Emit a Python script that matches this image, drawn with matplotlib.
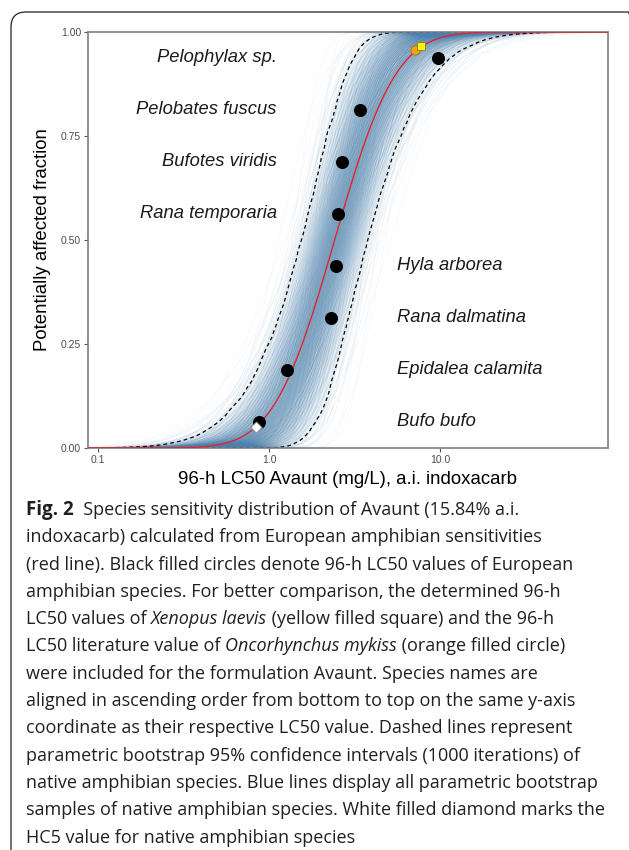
"""
Species sensitivity distribution of Avaunt, amphibians (Fig. 2).
"""

import math
from statistics import NormalDist

import numpy as np
import matplotlib
matplotlib.use("Agg")
import matplotlib.pyplot as plt
from matplotlib.collections import LineCollection
from matplotlib.patches import FancyBboxPatch

plt.rcParams["font.family"] = ["Liberation Sans", "DejaVu Sans"]

# native amphibian species, ascending LC50 (mg/L)
species = [
    "Bufo bufo",
    "Epidalea calamita",
    "Rana dalmatina",
    "Hyla arborea",
    "Rana temporaria",
    "Bufotes viridis",
    "Pelobates fuscus",
    "Pelophylax sp.",
]
lc50 = [0.875, 1.28, 2.31, 2.48, 2.55, 2.68, 3.39, 9.7]
affected = [0.0625, 0.1875, 0.3125, 0.4375, 0.5625, 0.6875, 0.8125, 0.9375]

xenopus_lc50 = 7.78
xenopus_frac = 0.966
oncorhynchus_lc50 = 7.17
oncorhynchus_frac = 0.956
hc5_value = 0.836
hc5_frac = 0.05

# fitted log-normal (log10 scale) and bootstrap settings
fit_meanlog10 = 0.384
fit_sdlog10 = 0.281
n_species = 8
n_boot = 1000

x_ticks = [0.1, 1.0, 10.0]
x_tick_labels = ["0.1", "1.0", "10.0"]
y_ticks = [0.0, 0.25, 0.50, 0.75, 1.00]
y_tick_labels = ["0.00", "0.25", "0.50", "0.75", "1.00"]

caption_lines = [
    [("Fig. 2", "bold"), ("  Species sensitivity distribution of Avaunt (15.84% a.i.", "normal")],
    [("indoxacarb) calculated from European amphibian sensitivities", "normal")],
    [("(red line). Black filled circles denote 96-h LC50 values of European", "normal")],
    [("amphibian species. For better comparison, the determined 96-h", "normal")],
    [("LC50 values of ", "normal"), ("Xenopus laevis", "italic"),
     (" (yellow filled square) and the 96-h", "normal")],
    [("LC50 literature value of ", "normal"), ("Oncorhynchus mykiss", "italic"),
     (" (orange filled circle)", "normal")],
    [("were included for the formulation Avaunt. Species names are", "normal")],
    [("aligned in ascending order from bottom to top on the same y-axis", "normal")],
    [("coordinate as their respective LC50 value. Dashed lines represent", "normal")],
    [("parametric bootstrap 95% confidence intervals (1000 iterations) of", "normal")],
    [("native amphibian species. Blue lines display all parametric bootstrap", "normal")],
    [("samples of native amphibian species. White filled diamond marks the", "normal")],
    [("HC5 value for native amphibian species", "normal")],
]

W, H = 629, 850
fig = plt.figure(figsize=(W / 100, H / 100), dpi=100)
ax = fig.add_axes([88 / W, (H - 448) / H, 520 / W, 416 / H])

x_min, x_max = 0.0875, 96.0
x_grid = np.logspace(np.log10(x_min), np.log10(x_max), 400)
log_x = np.log10(x_grid)

nd = NormalDist()
erf = np.vectorize(math.erf)


def lognorm_cdf(mu, sd):
    return 0.5 * (1 + erf((log_x - mu) / (sd * math.sqrt(2))))


# parametric bootstrap curves, quantile based instead of random draws
df = n_species - 1
boot_curves = []
for k in range(n_boot):
    z_mu = nd.inv_cdf((k + 0.5) / n_boot)
    z_sd = nd.inv_cdf(((k + 0.5) * 0.6180339887) % 1)
    chi2 = df * (1 - 2 / (9 * df) + z_sd * math.sqrt(2 / (9 * df))) ** 3
    mu_k = fit_meanlog10 + fit_sdlog10 * z_mu / math.sqrt(n_species)
    sd_k = fit_sdlog10 * math.sqrt(chi2 / n_species)
    boot_curves.append(lognorm_cdf(mu_k, sd_k))
boot_curves = np.array(boot_curves)

segments = [np.column_stack([x_grid, y]) for y in boot_curves]
ax.add_collection(
    LineCollection(segments, colors="#4682b4", alpha=0.05, linewidths=0.6, zorder=1)
)

ci_low = np.percentile(boot_curves, 2.5, axis=0)
ci_high = np.percentile(boot_curves, 97.5, axis=0)
ax.plot(x_grid, ci_low, color="black", lw=0.9, ls=(0, (3, 2.5)), zorder=2)
ax.plot(x_grid, ci_high, color="black", lw=0.9, ls=(0, (3, 2.5)), zorder=2)

ax.plot(x_grid, lognorm_cdf(fit_meanlog10, fit_sdlog10), color="#e0262b", lw=1.0, zorder=3)

ax.scatter(lc50, affected, s=70, color="black", zorder=4)
ax.scatter([hc5_value], [hc5_frac], marker="D", s=32, facecolor="white",
           edgecolor="#888888", linewidth=0.6, zorder=5)
ax.scatter([oncorhynchus_lc50], [oncorhynchus_frac], marker="o", s=45,
           facecolor="#f5a01a", edgecolor="#a86a10", linewidth=0.6, zorder=5)
ax.scatter([xenopus_lc50], [xenopus_frac], marker="s", s=40,
           facecolor="#fff200", edgecolor="#8c7d10", linewidth=0.6, zorder=6)

# species names: upper four right-aligned left of curve, lower four on the right
for name, frac in zip(species, affected):
    if frac > 0.5:
        ax.text(1.11, frac, name, ha="right", va="center", fontsize=13.2,
                style="italic", color="#1a1a1a")
    else:
        ax.text(5.6, frac, name, ha="left", va="center", fontsize=13.2,
                style="italic", color="#1a1a1a")

ax.set_xscale("log")
ax.set_xlim(x_min, x_max)
ax.set_ylim(0, 1)
ax.set_xticks(x_ticks)
ax.set_xticklabels(x_tick_labels)
ax.minorticks_off()
ax.set_yticks(y_ticks)
ax.set_yticklabels(y_tick_labels)
ax.tick_params(length=3, width=0.8, color="#555555", labelcolor="#4d4d4d",
               labelsize=7.5, pad=2)
for spine in ax.spines.values():
    spine.set_color("#7f7f7f")
    spine.set_linewidth(1.2)

fig.text(43 / W, 1 - 240 / H, "Potentially affected fraction", rotation=90,
         ha="center", va="center", fontsize=13.4, color="black")
fig.text(347 / W, 1 - 480 / H, "96-h LC50 Avaunt (mg/L), a.i. indoxacarb",
         ha="center", va="center", fontsize=13.4, color="black")

# caption, segment by segment so italic names sit inline
cap_font = "Open Sans"
baseline = 515
for line in caption_lines:
    y_fig = (H - baseline) / H
    prev = None
    for text, style in line:
        weight = "bold" if style == "bold" else "normal"
        fstyle = "italic" if style == "italic" else "normal"
        size = 13.5 if style == "bold" else 13
        if prev is None:
            prev = fig.text(26 / W, y_fig, text, ha="left", va="baseline",
                            fontsize=size, family=cap_font, weight=weight,
                            style=fstyle, color="#231f20")
        else:
            prev = ax.annotate(text, xy=(1, y_fig), xycoords=(prev, "figure fraction"),
                               ha="left", va="baseline", fontsize=size,
                               family=cap_font, weight=weight, style=fstyle,
                               color="#231f20", annotation_clip=False)
    baseline += 27.3

frame = FancyBboxPatch((0.11, -0.2), 6.32, 8.58,
                       boxstyle="round,pad=0,rounding_size=0.15",
                       transform=fig.dpi_scale_trans, facecolor="none",
                       edgecolor="#222222", linewidth=0.9, clip_on=False)
fig.add_artist(frame)

fig.savefig("out.png", dpi=100)
